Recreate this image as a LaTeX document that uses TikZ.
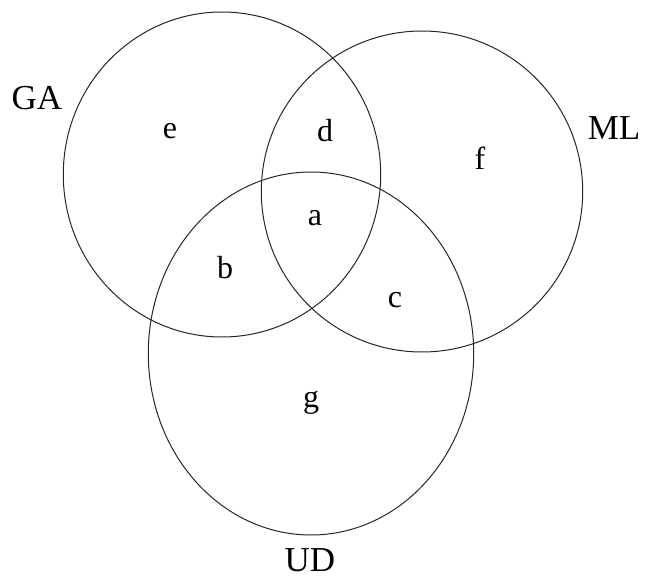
\documentclass[tikz,border=0pt]{standalone}
\usepackage{fontspec}
\setmainfont{Liberation Serif}
\usetikzlibrary{shapes.geometric}
\begin{document}
\begin{tikzpicture}[x=1pt,y=-1pt,
  setshape/.style={draw=black!85, line width=1pt, ellipse, inner sep=0pt, outer sep=0pt},
  lbl/.style={font=\fontsize{35}{40}\selectfont, inner sep=0pt},
  rgn/.style={font=\fontsize{32}{38}\selectfont, inner sep=0pt}]
\useasboundingbox (0,0) rectangle (646,580);
\node[setshape, minimum width=317.4pt, minimum height=325pt] (GAset) at (222,174.5) {};
\node[setshape, minimum width=321.4pt, minimum height=321pt] (MLset) at (422,191.5) {};
\node[setshape, minimum width=325.4pt, minimum height=363pt] (UDset) at (311,353.5) {};
\node[lbl] (GA) at (37,98) {GA};
\node[lbl] (ML) at (614,128) {ML};
\node[lbl] (UD) at (310,560) {UD};
\node[rgn] (e) at (170,131) {e};
\node[rgn] (d) at (325,131) {d};
\node[rgn] (f) at (480,158) {f};
\node[rgn] (a) at (315,218) {a};
\node[rgn] (b) at (225,268) {b};
\node[rgn] (c) at (395,300) {c};
\node[rgn] (g) at (311,403) {g};
\end{tikzpicture}
\end{document}
